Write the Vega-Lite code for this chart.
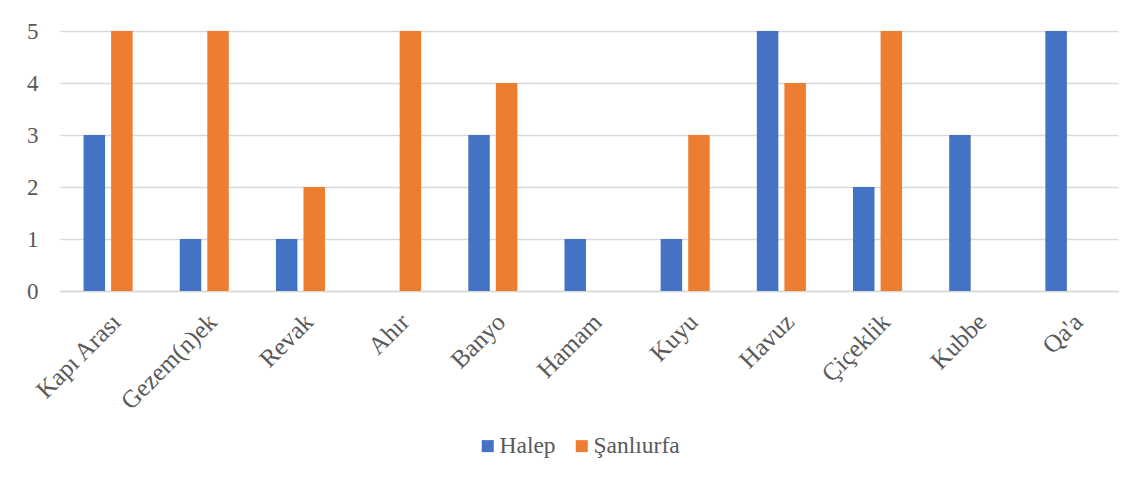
{
  "$schema": "https://vega.github.io/schema/vega-lite/v6.json",
  "width": 1058,
  "height": 260,
  "autosize": {"type": "none"},
  "padding": {"left": 60, "top": 31, "right": 21, "bottom": 195},
  "background": "white",
  "config": {
    "view": {"stroke": null},
    "font": "Liberation Serif",
    "legend": {"labelFont": "Liberation Serif", "labelFontSize": 23.5}
  },
  "data": {
    "values": [
      {"room": "Kapı Arası", "city": "Halep", "count": 3},
      {"room": "Kapı Arası", "city": "Şanlıurfa", "count": 5},
      {"room": "Gezem(n)ek", "city": "Halep", "count": 1},
      {"room": "Gezem(n)ek", "city": "Şanlıurfa", "count": 5},
      {"room": "Revak", "city": "Halep", "count": 1},
      {"room": "Revak", "city": "Şanlıurfa", "count": 2},
      {"room": "Ahır", "city": "Halep", "count": 0},
      {"room": "Ahır", "city": "Şanlıurfa", "count": 5},
      {"room": "Banyo", "city": "Halep", "count": 3},
      {"room": "Banyo", "city": "Şanlıurfa", "count": 4},
      {"room": "Hamam", "city": "Halep", "count": 1},
      {"room": "Hamam", "city": "Şanlıurfa", "count": 0},
      {"room": "Kuyu", "city": "Halep", "count": 1},
      {"room": "Kuyu", "city": "Şanlıurfa", "count": 3},
      {"room": "Havuz", "city": "Halep", "count": 5},
      {"room": "Havuz", "city": "Şanlıurfa", "count": 4},
      {"room": "Çiçeklik", "city": "Halep", "count": 2},
      {"room": "Çiçeklik", "city": "Şanlıurfa", "count": 5},
      {"room": "Kubbe", "city": "Halep", "count": 3},
      {"room": "Kubbe", "city": "Şanlıurfa", "count": 0},
      {"room": "Qa'a", "city": "Halep", "count": 5},
      {"room": "Qa'a", "city": "Şanlıurfa", "count": 0}
    ]
  },
  "mark": {"type": "bar"},
  "encoding": {
    "x": {
      "field": "room",
      "type": "nominal",
      "sort": null,
      "title": null,
      "scale": {"paddingInner": 0.49, "paddingOuter": 0.245},
      "axis": {
        "labelAngle": -45,
        "labelFontSize": 25,
        "labelColor": "#595959",
        "labelFont": "Liberation Serif",
        "labelPadding": 18,
        "ticks": false,
        "domainColor": "#D9D9D9",
        "domainWidth": 1.5,
        "grid": false
      }
    },
    "xOffset": {
      "field": "city",
      "type": "nominal",
      "scale": {"paddingInner": 0.22, "paddingOuter": 0}
    },
    "y": {
      "field": "count",
      "type": "quantitative",
      "title": null,
      "scale": {"domain": [0, 5], "nice": false},
      "axis": {
        "values": [0, 1, 2, 3, 4, 5],
        "labelFontSize": 23,
        "labelColor": "#595959",
        "labelFont": "Liberation Serif",
        "labelPadding": 22,
        "ticks": false,
        "domain": false,
        "gridColor": "#D9D9D9",
        "gridWidth": 1.5
      }
    },
    "color": {
      "field": "city",
      "type": "nominal",
      "scale": {"domain": ["Halep", "Şanlıurfa"], "range": ["#4472C4", "#ED7D31"]},
      "legend": {
        "title": null,
        "orient": "none",
        "direction": "horizontal",
        "legendX": 416,
        "legendY": 403,
        "symbolType": "square",
        "symbolSize": 144,
        "symbolStrokeWidth": 0,
        "labelFontSize": 23.5,
        "labelColor": "#595959",
        "labelFont": "Liberation Serif",
        "labelOffset": 0,
        "columnPadding": 14
      }
    }
  }
}
